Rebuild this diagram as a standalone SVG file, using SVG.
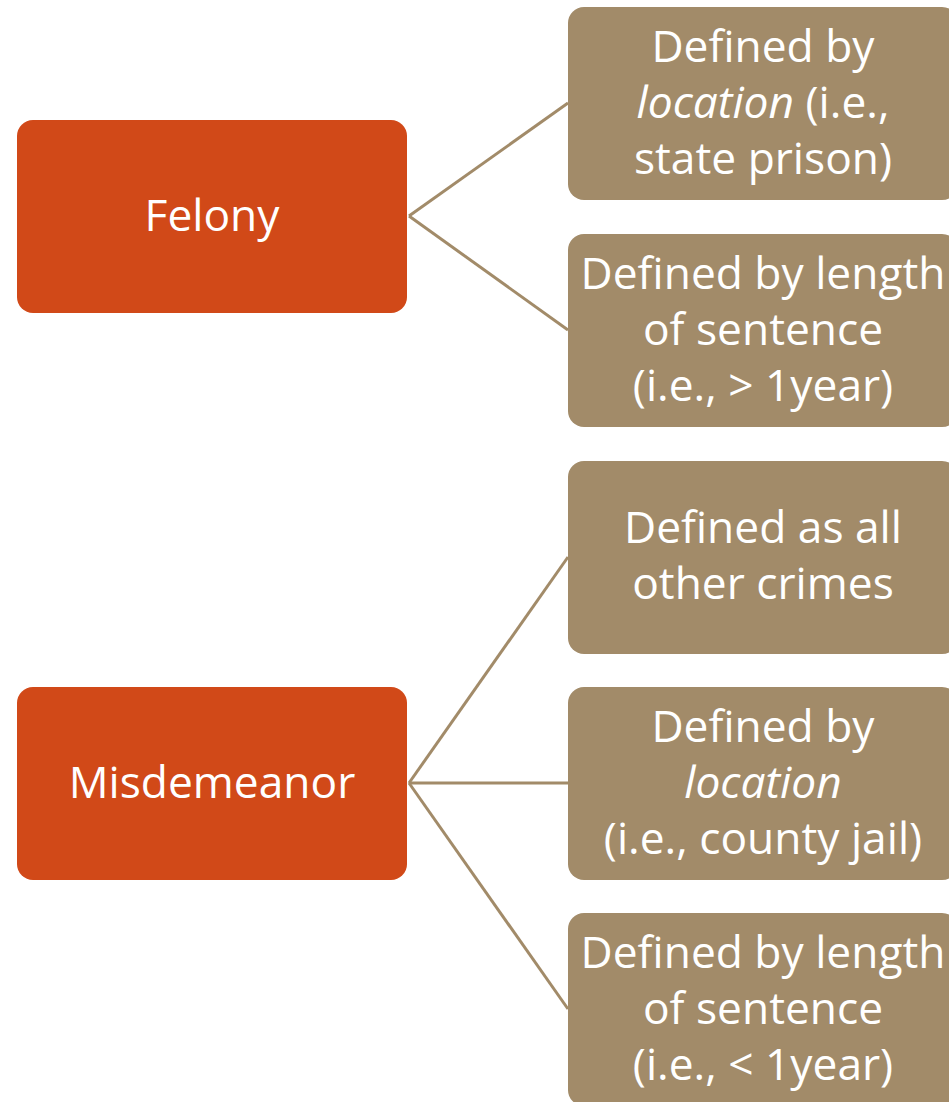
<svg xmlns="http://www.w3.org/2000/svg" width="949" height="1102" viewBox="0 0 949 1102">
<style>
.main{fill:#D14918}
.sub{fill:#A28B69}
text{font-family:"Open Sans","Noto Sans",sans-serif;font-size:44.3px;fill:#FFFFFF;text-anchor:middle}
.it{font-style:italic}
.conn line{stroke:#A28B69;stroke-width:3}
</style>
<rect width="949" height="1102" fill="#FFFFFF"/>
<g class="conn" id="connectors">
<line x1="409" y1="216" x2="568" y2="103"/>
<line x1="409" y1="216" x2="568" y2="330"/>
<line x1="409" y1="783" x2="568" y2="557"/>
<line x1="409" y1="783" x2="568" y2="783"/>
<line x1="409" y1="783" x2="568" y2="1009"/>
</g>
<g id="felony">
<rect class="main" x="17" y="120" width="390" height="193" rx="16"/>
<text x="212" y="231">Felony</text>
</g>
<g id="misdemeanor">
<rect class="main" x="17" y="687" width="390" height="193" rx="16"/>
<text x="212" y="798">Misdemeanor</text>
</g>
<g id="f-location">
<rect class="sub" x="568" y="7" width="390" height="193" rx="16"/>
<text x="763" y="62">Defined by</text>
<text x="763" y="118"><tspan class="it">location</tspan> (i.e.,</text>
<text x="763" y="174">state prison)</text>
</g>
<g id="f-length">
<rect class="sub" x="568" y="234" width="390" height="193" rx="16"/>
<text x="763" y="289">Defined by length</text>
<text x="763" y="345">of sentence</text>
<text x="763" y="401">(i.e., &gt; 1year)</text>
</g>
<g id="m-other">
<rect class="sub" x="568" y="461" width="390" height="193" rx="16"/>
<text x="763" y="543">Defined as all</text>
<text x="763" y="599">other crimes</text>
</g>
<g id="m-location">
<rect class="sub" x="568" y="687" width="390" height="193" rx="16"/>
<text x="763" y="742">Defined by</text>
<text x="763" y="798" class="it">location</text>
<text x="763" y="854">(i.e., county jail)</text>
</g>
<g id="m-length">
<rect class="sub" x="568" y="913" width="390" height="193" rx="16"/>
<text x="763" y="968">Defined by length</text>
<text x="763" y="1024">of sentence</text>
<text x="763" y="1080">(i.e., &lt; 1year)</text>
</g>
</svg>
